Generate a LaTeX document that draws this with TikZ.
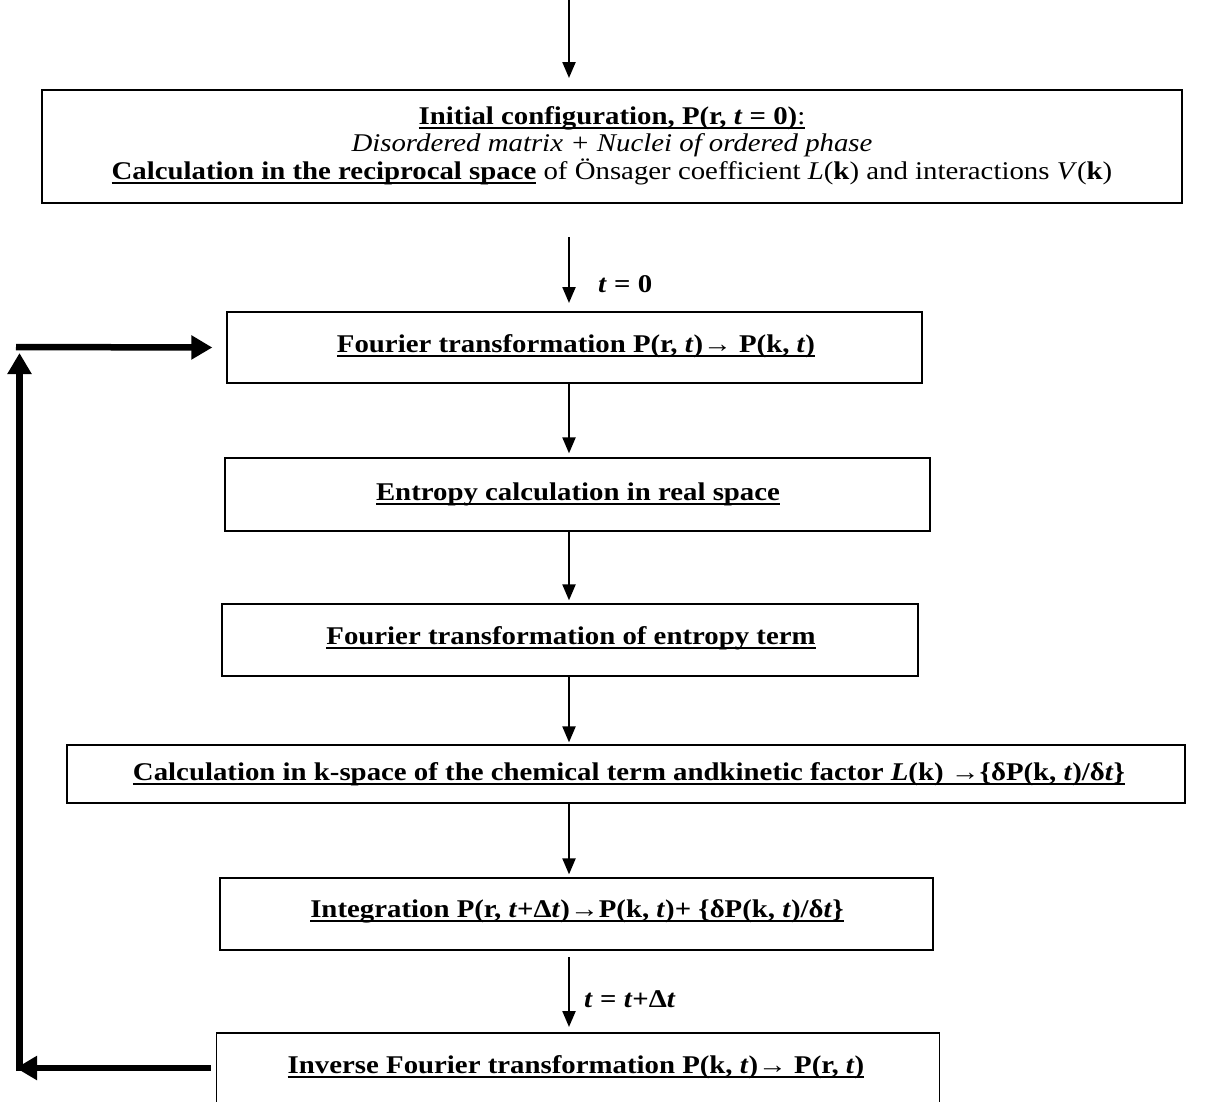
\documentclass[tikz,border=0pt]{standalone}
\usepackage{fontspec}
\usepackage{graphicx}
\setmainfont{Liberation Serif}
\usetikzlibrary{arrows.meta}
\newcommand{\myul}[1]{\setbox0\hbox{#1}\rlap{\rule[-4.5pt]{\wd0}{2pt}}\box0\relax}
\newcommand{\sx}[1]{\scalebox{1.13}[1]{#1}}
\begin{document}
\begin{tikzpicture}[x=1pt,y=-1pt,
  box/.style={draw,line width=1.3pt,rectangle,inner sep=0pt},
  txt/.style={inner sep=0pt,align=center,font=\fontsize{25.5}{27.5}\selectfont},
  thinarrow/.style={line width=2.2pt,-{Triangle[length=16pt,width=13pt]}},
  thickarrow/.style={line width=6.5pt,-{Triangle[length=21pt,width=23pt]}}]
\useasboundingbox (0,0) rectangle (1220,1101);
\clip (0,0) rectangle (1220,1101);
% boxes
\node[box,minimum width=1140pt,minimum height=113pt] (b1) at (612,146.5) {};
\node[box,minimum width=695pt,minimum height=71pt] (b2) at (574.5,347.5) {};
\node[box,minimum width=705pt,minimum height=73pt] (b3) at (577.5,494.5) {};
\node[box,minimum width=696pt,minimum height=72pt] (b4) at (570,640) {};
\node[box,minimum width=1118pt,minimum height=58pt] (b5) at (626,774) {};
\node[box,minimum width=713pt,minimum height=72pt] (b6) at (576.5,914) {};
\node[box,minimum width=723pt,minimum height=72pt] (b7) at (578,1069) {};
% texts
\node[txt,anchor=base] (t1) at (612,179) {\sx{\myul{\textbf{Initial configuration, P(r, \textit{t} = 0)}:}}\\
 \sx{\textit{Disordered matrix + Nuclei of ordered phase}}\\
 \sx{\myul{\textbf{Calculation in the reciprocal space}} of Önsager coefficient \textit{L}(\textbf{k}) and interactions \textit{V}(\textbf{k})}};
\node[txt,anchor=base] (t2) at (576,352) {\sx{\myul{\textbf{Fourier transformation P(r, \textit{t})→ P(k, \textit{t})}}}};
\node[txt,anchor=base] (t3) at (578,500) {\sx{\myul{\textbf{Entropy calculation in real space}}}};
\node[txt,anchor=base] (t4) at (571,644) {\sx{\myul{\textbf{Fourier transformation of entropy term}}}};
\node[txt,anchor=base] (t5) at (629,780) {\sx{\myul{\textbf{Calculation in k-space of the chemical term andkinetic factor \textit{L}(k) →\{δP(k, \textit{t})/δ\textit{t}\}}}}};
\node[txt,anchor=base] (t6) at (577,917) {\sx{\myul{\textbf{Integration P(r, \textit{t}+Δ\textit{t})→P(k, \textit{t})+ \{δP(k, \textit{t})/δ\textit{t}\}}}}};
\node[txt,anchor=base] (t7) at (576,1073) {\sx{\myul{\textbf{Inverse Fourier transformation P(k, \textit{t})→ P(r, \textit{t})}}}};
% coordinates
\coordinate (c0) at (569,0);
\coordinate (c1) at (569,78);
\coordinate (c2) at (569,237);
\coordinate (c3) at (569,303);
\coordinate (c4) at (569,957);
\coordinate (c5) at (569,1027);
% thin arrows
\draw[thinarrow] (c0) -- (c1);
\draw[thinarrow] (c2) -- (c3);
\draw[thinarrow,shorten >=4pt] (b2.south -| c0) -- (b3.north -| c0);
\draw[thinarrow,shorten >=3pt] (b3.south -| c0) -- (b4.north -| c0);
\draw[thinarrow,shorten >=2pt] (b4.south -| c0) -- (b5.north -| c0);
\draw[thinarrow,shorten >=3pt] (b5.south -| c0) -- (b6.north -| c0);
\draw[thinarrow] (c4) -- (c5);
% labels
\node[txt,anchor=base west] (l1) at (598,292) {\sx{\textbf{\textit{t} = 0}}};
\node[txt,anchor=base west] (l2) at (584,1007) {\sx{\textbf{\textit{t} = \textit{t}+Δ\textit{t}}}};
% feedback loop
\coordinate (lb) at (16,1068);
\coordinate (lc) at (19.5,1071);
\coordinate (lu) at (19.5,353);
\coordinate (lt) at (16,347);
\draw[thickarrow] ([xshift=-5pt]b7.west |- lb) -- (lb);
\draw[thickarrow] (lc) -- (lu);
\draw[thickarrow] (lt) -- ([xshift=-14pt]b2.west);
\end{tikzpicture}
\end{document}
